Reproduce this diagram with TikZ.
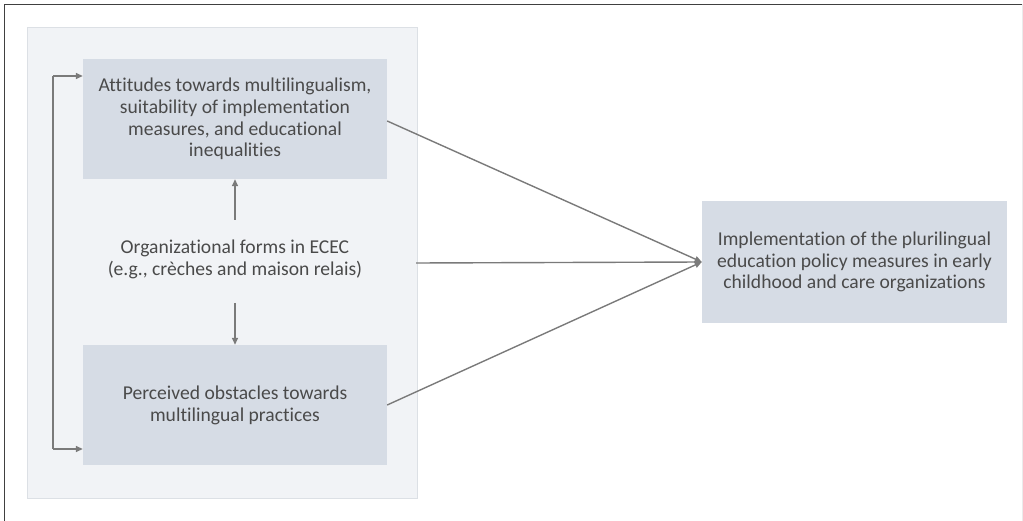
\documentclass[tikz,border=0pt]{standalone}
\usepackage{fontspec}
\setmainfont[Ligatures=NoCommon]{Carlito}
\usetikzlibrary{arrows.meta}
\definecolor{panelfill}{HTML}{F1F3F6}
\definecolor{panelline}{HTML}{DCE0E5}
\definecolor{boxfill}{HTML}{D6DCE5}
\definecolor{txt}{HTML}{4A4A4A}
\definecolor{conn}{HTML}{7A7A7A}
\begin{document}
\begin{tikzpicture}[x=1pt,y=-1pt,
  box/.style={draw=none,fill=boxfill,align=center,text=txt,font=\fontsize{19.6}{21.8}\selectfont,inner sep=0pt},
  lbl/.style={align=center,text=txt,font=\fontsize{19.6}{21.8}\selectfont,inner sep=0pt},
  conn/.style={draw=conn,line width=1.4pt,-{Triangle[length=7pt,width=6pt]}},
  feed/.style={draw=conn,line width=1.4pt}]
\useasboundingbox (0,0) rectangle (1023,521);
\fill[white] (0,0) rectangle (1023,521);
% page frame
\draw[line width=1.6pt,draw=black!75] (4.5,521) -- (4.5,4.5) -- (1023,4.5);
\draw[line width=0.8pt,draw=black!8] (1022,4.5) -- (1022,521);
% grouping panel
\filldraw[fill=panelfill,draw=panelline,line width=1pt] (27,28) rectangle (417,498);
% boxes
\node[box,minimum width=304pt,minimum height=120pt] (att) at (235,119)
  {Attitudes towards multilingualism,\\suitability of implementation\\measures, and educational\\inequalities};
\node[lbl] (org) at (235,259) {Organizational forms in ECEC\\(e.g., crèches and maison relais)};
\node[box,minimum width=304pt,minimum height=120pt] (obs) at (235,405)
  {Perceived obstacles towards\\multilingual practices};
\node[box,minimum width=305pt,minimum height=122pt] (imp) at (854.5,262)
  {Implementation of the plurilingual\\education policy measures in early\\childhood and care organizations};
% connectors
\coordinate (orgout) at (416,263);
\coordinate (fb) at (53,262);
\draw[conn] (235,220) -- (att.south);
\draw[conn] (235,303) -- (obs.north);
\draw[conn] (att.east |- 0,121) -- (imp.west);
\draw[conn] (orgout) -- (imp.west);
\draw[conn] (obs.east) -- (imp.west);
% feedback bracket
\draw[feed] (fb |- 0,76) -- (fb |- 0,449);
\draw[conn] (fb |- 0,76) -- (att.west |- 0,76);
\draw[conn] (fb |- 0,449) -- (obs.west |- 0,449);
\end{tikzpicture}
\end{document}
